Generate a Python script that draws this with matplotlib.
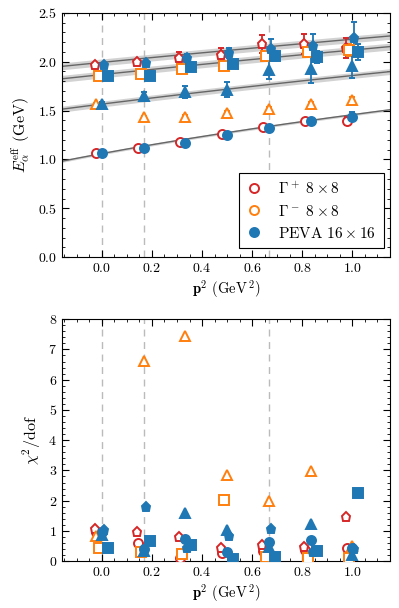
import numpy as np
import matplotlib
matplotlib.use("Agg")
import matplotlib.pyplot as plt
from matplotlib.ticker import MultipleLocator
from matplotlib.lines import Line2D

plt.rcParams['font.family'] = 'serif'
plt.rcParams['font.serif'] = ['cmr10', 'DejaVu Serif']
plt.rcParams['mathtext.fontset'] = 'cm'
plt.rcParams['axes.formatter.use_mathtext'] = True
plt.rcParams['font.size'] = 10

red = '#d62728'
orange = '#ff7f0e'
blue = '#1f77b4'

# momentum grid (GeV^2)
p2 = np.array([0, 1/6, 1/3, 1/2, 2/3, 5/6, 1.0])
vlines = [0, 1/6, 2/3]

# x offsets per series (small shifts for readability)
x_red_c = p2 - 0.022
x_red_p = p2 - 0.026
x_or_s = p2 - 0.012
x_or_t = np.array([-0.025, 1/6, 1/3, 1/2, 2/3, 5/6, 1.0])
x_bl_c = p2
x_bl_p = p2 + 0.008
x_bl_s = p2 + 0.024
x_bl_t = p2

# effective energies (GeV) and errors
E_red_c = [1.063, 1.12, 1.178, 1.265, 1.336, 1.396, 1.395]
dE_red_c = [0.01, 0.01, 0.012, 0.012, 0.015, 0.02, 0.04]
E_red_p = [1.969, 1.997, 2.038, 2.072, 2.18, 2.18, 2.14]
dE_red_p = [0.02, 0.025, 0.06, 0.07, 0.09, 0.1, 0.1]
E_or_s = [1.856, 1.873, 1.925, 1.959, 2.062, 2.096, 2.116]
dE_or_s = [0.015, 0.02, 0.025, 0.03, 0.04, 0.05, 0.06]
E_or_t = [1.565, 1.430, 1.438, 1.475, 1.514, 1.565, 1.612]
dE_or_t = [0.01, 0.015, 0.015, 0.02, 0.02, 0.025, 0.03]
E_bl_c = [1.062, 1.12, 1.171, 1.25, 1.325, 1.397, 1.438]
dE_bl_c = [0.01, 0.01, 0.012, 0.012, 0.015, 0.025, 0.05]
E_bl_p = [1.969, 1.986, 2.038, 2.089, 2.13, 2.164, 2.243]
dE_bl_p = [0.02, 0.025, 0.04, 0.055, 0.1, 0.12, 0.16]
E_bl_s = [1.856, 1.856, 1.948, 1.975, 2.06, 2.045, 2.1]
dE_bl_s = [0.015, 0.02, 0.03, 0.035, 0.05, 0.06, 0.08]
E_bl_t = [1.565, 1.644, 1.69, 1.712, 1.915, 1.92, 1.952]
dE_bl_t = [0.02, 0.05, 0.06, 0.077, 0.096, 0.14, 0.12]

# chi^2/dof of the fits
chi_red_c = [0.95, 0.60, 0.12, 0.28, 0.35, 0.38, 0.44]
chi_red_p = [1.07, 0.95, 0.80, 0.45, 0.52, 0.47, 1.47]
chi_or_s = [0.45, 0.29, 0.23, 2.02, 0.14, 0.12, 0.12]
chi_or_t = [0.83, 6.61, 7.44, 2.84, 1.99, 2.97, 0.50]
chi_bl_c = [0.95, 0.39, 0.72, 0.29, 0.64, 0.70, 0.42]
chi_bl_p = [1.03, 1.80, 0.42, 0.83, 1.05, 0.31, 0.39]
chi_bl_s = [0.44, 0.68, 0.55, 0.07, 0.14, 0.34, 2.27]
chi_bl_t = [0.86, 0.34, 1.58, 1.02, 0.47, 1.23, 0.20]

# rest masses of the dispersion fits (GeV) and band half-widths
masses = [1.06, 1.566, 1.868, 1.9925]
bands = [0.012, 0.03, 0.035, 0.035]

fig = plt.figure(figsize=(3.99, 6.08), dpi=100)
ax1 = fig.add_axes([0.155, 0.577, 0.822, 0.402])
ax2 = fig.add_axes([0.155, 0.077, 0.822, 0.398])

ms = 6.5
series = [
    (x_red_c, E_red_c, dE_red_c, chi_red_c, 'o', red, False),
    (x_red_p, E_red_p, dE_red_p, chi_red_p, 'p', red, False),
    (x_or_s, E_or_s, dE_or_s, chi_or_s, 's', orange, False),
    (x_or_t, E_or_t, dE_or_t, chi_or_t, '^', orange, False),
    (x_bl_c, E_bl_c, dE_bl_c, chi_bl_c, 'o', blue, True),
    (x_bl_p, E_bl_p, dE_bl_p, chi_bl_p, 'p', blue, True),
    (x_bl_s, E_bl_s, dE_bl_s, chi_bl_s, 's', blue, True),
    (x_bl_t, E_bl_t, dE_bl_t, chi_bl_t, '^', blue, True),
]

for ax in (ax1, ax2):
    for v in vlines:
        ax.axvline(v, color='#bbbbbb', ls=(0, (5, 4)), lw=1, zorder=0)

# dispersion curves
xx = np.linspace(-0.2, 1.2, 200)
for m, b in zip(masses, bands):
    E = np.sqrt(m**2 + xx)
    ax1.fill_between(xx, E - b, E + b, color='#bfbfbf', alpha=0.7, lw=0, zorder=1)
    ax1.plot(xx, E, color='#666666', lw=1, zorder=2)

for x, E, dE, chi, mk, col, filled in series:
    fc = col if filled else 'white'
    ax1.errorbar(x, E, yerr=dE, fmt=mk, ms=ms, mfc=fc, mec=col, mew=1.4,
                 color=col, ecolor=col, elinewidth=1.3, capsize=2.5, capthick=1.3, zorder=3)
    ax2.plot(x, chi, mk, ms=ms, mfc=fc, mec=col, mew=1.4, ls='none', zorder=3)

for ax in (ax1, ax2):
    ax.set_xlim(-0.16, 1.15)
    ax.xaxis.set_major_locator(MultipleLocator(0.2))
    ax.xaxis.set_minor_locator(MultipleLocator(0.05))
    ax.tick_params(which='both', direction='in', top=True, right=True)
    ax.tick_params(which='major', length=5, width=0.8)
    ax.tick_params(which='minor', length=2.5, width=0.6)
    ax.set_xlabel(r'$\mathbf{p}^2$ (GeV$^{\,2}$)', fontsize=10.5, labelpad=2)

ax1.set_ylim(0, 2.5)
ax1.yaxis.set_major_locator(MultipleLocator(0.5))
ax1.yaxis.set_minor_locator(MultipleLocator(0.1))
ax1.set_ylabel(r'$E_\alpha^{\rm eff}$ (GeV)', fontsize=11.5)

ax2.set_ylim(0, 8)
ax2.yaxis.set_major_locator(MultipleLocator(1))
ax2.yaxis.set_minor_locator(MultipleLocator(0.2))
ax2.set_ylabel(r'$\chi^2/{\rm dof}$', fontsize=11.5)

handles = [
    Line2D([], [], marker='o', ls='none', ms=ms, mfc='white', mec=red, mew=1.4),
    Line2D([], [], marker='o', ls='none', ms=ms, mfc='white', mec=orange, mew=1.4),
    Line2D([], [], marker='o', ls='none', ms=ms, mfc=blue, mec=blue, mew=1.4),
]
labels = [r'$\Gamma^+\ 8\times8$', r'$\Gamma^-\ 8\times8$', r'PEVA $16\times16$']
leg = ax1.legend(handles, labels, loc='lower right', fancybox=False, framealpha=1,
                 edgecolor='black', borderpad=0.5, labelspacing=0.45, handlelength=1.0,
                 handletextpad=1.1, fontsize=11, borderaxespad=0,
                 bbox_to_anchor=(0.982, 0.037))
leg.get_frame().set_linewidth(0.8)

fig.savefig('out.png', dpi=100)
